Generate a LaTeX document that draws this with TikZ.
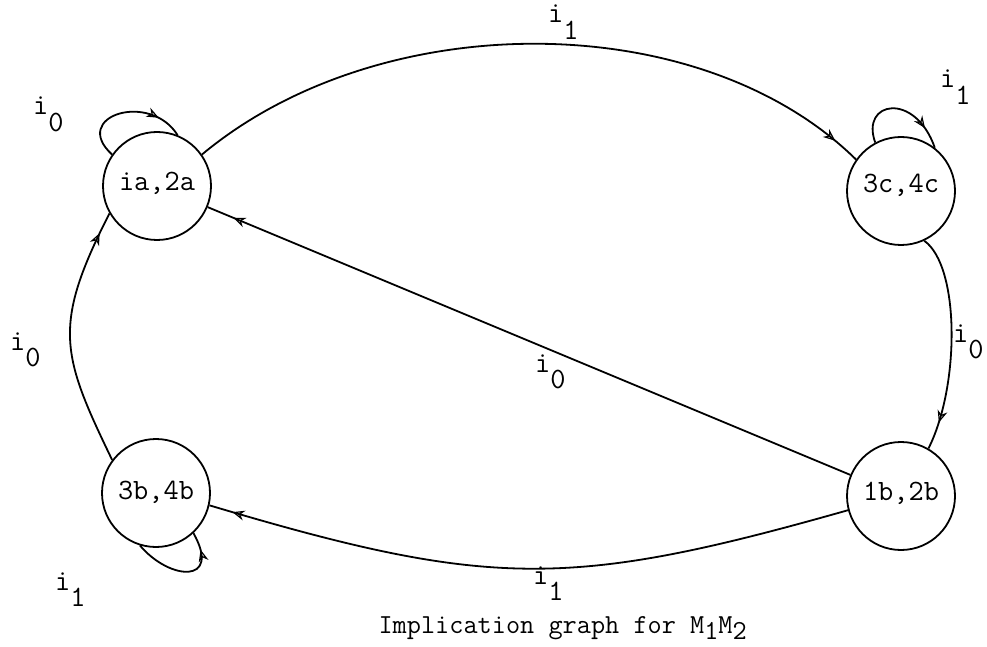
\documentclass[tikz,border=0pt]{standalone}
\usepackage{fontspec}
\usetikzlibrary{arrows.meta,decorations.markings}
\tikzset{
 st/.style={circle,draw,line width=1.8pt,minimum size=108pt,inner sep=0pt,font=\fontsize{29.5}{32}\selectfont\ttfamily},
 lbl/.style={anchor=base west,inner sep=0pt,font=\fontsize{29.5}{32}\selectfont\ttfamily},
 ed/.style={line width=1.8pt,postaction={decorate},decoration={markings,mark=at position -#1 with {\arrow{Stealth[open,length=12pt,width=10pt,line width=1.2pt]}}}},
 ed/.default=28pt
}
\newcommand{\lowsub}[1]{\raisebox{-0.55em}{#1}}
\begin{document}
\begin{tikzpicture}[x=1pt,y=1pt]
\useasboundingbox (0,0) rectangle (987,646);
\node[st] (A) at (157,460) {\raisebox{10pt}{ia,2a}};
\node[st] (C) at (901,455) {\raisebox{16pt}{3c,4c}};
\node[st] (B) at (901,150) {\raisebox{10pt}{1b,2b}};
\node[st] (D) at (156,153) {\raisebox{5pt}{3b,4b}};
\draw[ed] (A.35) .. controls (380,640) and (700,640) .. (C.145);
\draw[ed] (C.-65) .. controls (960,380) and (960,260) .. (B.60);
\draw[ed] (B) -- (A);
\draw[ed=24pt] (B.195) .. controls (570,57) and (490,57) .. (D.-13);
\draw[ed=22pt] (D.143) .. controls (61,292) and (52,320) .. (A.210);
\draw[ed=26pt] (A.145) .. controls (70,530) and (150,555) .. (A.68);
\draw[ed=22pt] (C.118) .. controls (860,545) and (915,555) .. (C.52);
\draw[ed=18pt] (D.253) .. controls (170,65) and (222,62) .. (D.313);
\node[lbl] (l1) at (548,623) {i\lowsub{1}};
\node[lbl] (l2) at (940,558) {i\lowsub{1}};
\node[lbl] (l3) at (33,531) {i\lowsub{0}};
\node[lbl] (l4) at (535,274) {i\lowsub{0}};
\node[lbl] (l5) at (953,304) {i\lowsub{0}};
\node[lbl] (l6) at (10,296) {i\lowsub{0}};
\node[lbl] (l7) at (55,56) {i\lowsub{1}};
\node[lbl] (l8) at (533,62) {i\lowsub{1}};
\node[font=\fontsize{27.5}{30}\selectfont\ttfamily, anchor=base east, inner sep=0pt] (cap) at (747,13) {Implication graph for M\raisebox{-0.25em}{1}M\raisebox{-0.25em}{2}};
\end{tikzpicture}
\end{document}
